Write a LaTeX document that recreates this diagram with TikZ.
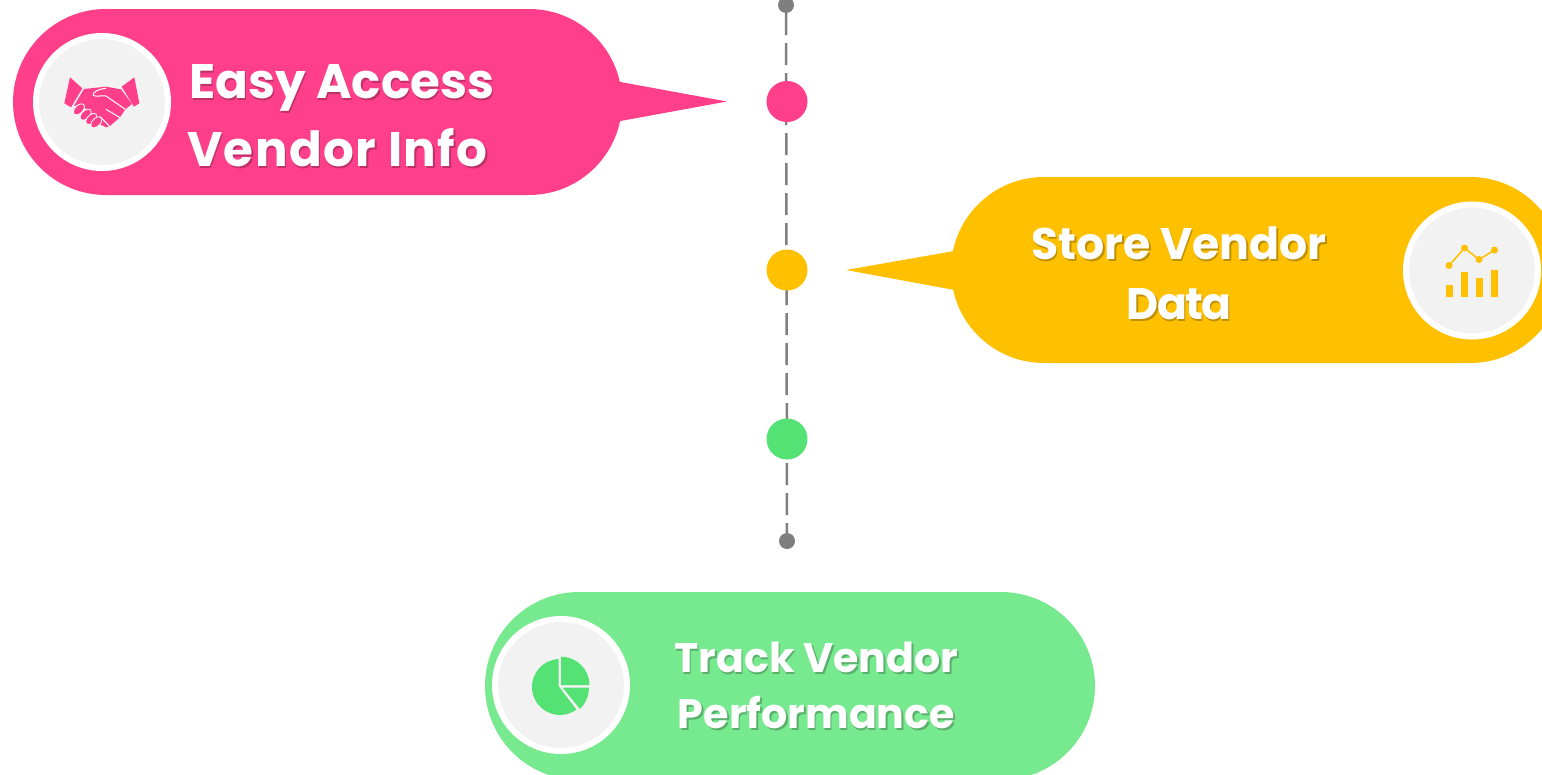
\documentclass[tikz,border=0pt]{standalone}
\usepackage{fontspec}
\setmainfont{Poppins}
\usepackage{xcolor}
\definecolor{pinkc}{HTML}{FF3F8A}
\definecolor{amberc}{HTML}{FFC000}
\definecolor{mintc}{HTML}{77E98F}
\definecolor{greenc}{HTML}{55E274}
\definecolor{paperc}{HTML}{F2F2F2}
\definecolor{linec}{HTML}{7F7F7F}
\newcommand{\shadowed}[2]{\leavevmode\rlap{\raisebox{-2pt}{\hspace{1.5pt}\textcolor{black!25!#1}{#2}}}#2}

\begin{document}
\begin{tikzpicture}[
    x=1pt,
    y=-1pt,
    every node/.style = {
      shape=rectangle,
      inner sep=0pt
    },
    pill/.style = {
      rounded corners=93pt,
      minimum height=186pt,
      minimum width=#1
    },
    badge/.style = {
      shape=circle,
      fill=paperc,
      draw=white,
      line width=6pt,
      minimum size=132pt
    },
    dot/.style = {
      shape=circle,
      fill=#1,
      draw=#1,
      line width=2pt,
      minimum size=39pt
    },
    enddot/.style = {
      shape=circle,
      fill=linec,
      minimum size=16pt
    },
    caption/.style = {
      text=white
    }
  ]
    \clip (0,0) rectangle (1542,774);

    % Timeline
    \node[enddot] (top) at (786,5) {};
    \node[enddot] (bottom) at (787,541) {};
    \draw[linec, line width=2.5pt, dash pattern=on 22pt off 8pt] (top) -- (bottom);
    \node[dot=pinkc] (dotone) at (787,101.5) {};
    \node[dot=amberc] (dottwo) at (787,270) {};
    \node[dot=greenc] (dotthree) at (787,439) {};

    % First group
    \fill[pinkc] (615,81) -- (727,101.5) -- (615,122) -- cycle;
    \node[pill=609pt, fill=pinkc] (access) at (317.5,102) {};
    \node[badge] (shake) at (102,102) {};
    \node[caption, align=left, anchor=west, font=\bfseries\fontsize{48.4}{68}\selectfont] (accesstext) at (189,117)
      {\shadowed{pinkc}{Easy Access} \\ \hspace*{-2pt}\addfontfeature{LetterSpace=2.9}\shadowed{pinkc}{Vendor Info}};
    % cuffs and hands
    \begin{scope}[shift={(20,20)}, x=0.3333pt, y=-0.3333pt]
      \fill[pinkc] (150,172) -- (187,205) -- (153,262) -- (133,250) -- cycle;
      \fill[pinkc] (343,172) -- (305,200) -- (342,260) -- (358,250) -- cycle;
      \fill[pinkc] (192,207) -- (258,200) -- (303,208) -- (336,252) -- (316,268) -- (300,292)
        -- (270,318) -- (258,322) -- (240,313) -- (228,290) -- (200,268) -- (175,255) -- (162,258) -- cycle;
      \draw[white, line width=1pt] (258,205) .. controls (235,207) and (215,218) .. (220,226)
        .. controls (228,232) and (245,225) .. (258,228) -- (316,268);
      \draw[white, line width=1pt] (258,268) -- (300,293);
      \draw[white, line width=1pt] (240,290) -- (268,318);
      \foreach \fx/\fy in {177/268,197/284,214/297,229/307}
        \filldraw[fill=pinkc, draw=white, line width=0.8pt, shift={(\fx,\fy)}, rotate=45] (0,0) ellipse (20 and 12);
    \end{scope}

    % Second group
    \fill[amberc] (960,250) -- (846,270) -- (960,291) -- cycle;
    \node[pill=612pt, fill=amberc] (store) at (1257,270) {};
    \node[badge] (chart) at (1472,270.5) {};
    \node[caption, align=center, font=\bfseries\fontsize{44.2}{60}\selectfont] (storetext) at (1179,274)
      {\shadowed{amberc}{Store Vendor} \\ \addfontfeature{LetterSpace=-4}\shadowed{amberc}{Data}};
    % bars and trend line
    \foreach \bx/\by in {1449.5/285,1464.5/272,1479.5/278,1494.5/270}
      \fill[amberc] (\bx-3.5,\by) rectangle (\bx+3.5,297);
    \draw[amberc, line width=1.5pt] (1449,265.5) -- (1464.5,248) -- (1479,259.5) -- (1494.5,250);
    \foreach \px/\py in {1449/265.5,1464.5/248,1479/259.5,1494.5/250}
      \fill[amberc] (\px,\py) circle (3.5);

    % Third group
    \node[pill=610pt, fill=mintc, rounded corners=94pt, minimum height=188pt] (track) at (790,686) {};
    \node[badge] (pie) at (561,685) {};
    \node[caption, align=center, font=\bfseries\fontsize{41.2}{56}\selectfont] (tracktext) at (816.5,686)
      {\shadowed{mintc}{Track Vendor} \\ \shadowed{mintc}{Performance}};
    % pie slices
    \fill[greenc] (558.5,659) arc (-93:-306:28) -- (558.5,686) -- cycle;
    \fill[greenc] (561,656.7) arc (-90:0:28.5) -- (561,685.2) -- cycle;
    \fill[greenc] (562.7,687.7) -- (589,687.7) .. controls (589,695) and (586,703) .. (580,709) -- cycle;
  \end{tikzpicture}
\end{document}
